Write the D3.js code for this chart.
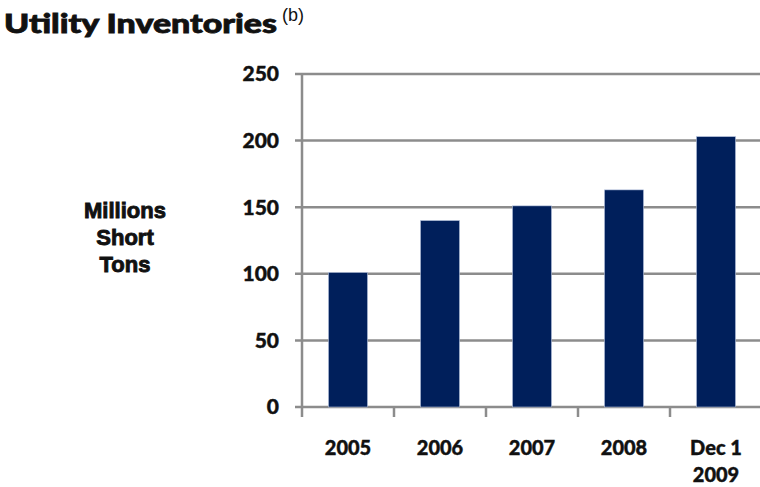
<!DOCTYPE html>
<html>
<head>
<meta charset="utf-8">
<script src="https://cdn.jsdelivr.net/npm/d3@7"></script>
<style>
  html, body { margin: 0; padding: 0; background: #fff; }
  svg { display: block; }
</style>
</head>
<body>
<svg id="chart" width="760" height="487"></svg>
<script>
// Utility coal inventories, millions of short tons
const categories = ["2005", "2006", "2007", "2008", "Dec 1\n2009"];
const inventories = [101, 140, 151, 163, 203];
const yTicks = [0, 50, 100, 150, 200, 250];

const svg = d3.select("#chart");
const W = 760, H = 487;
const plot = { left: 302, right: 762, top: 74, bottom: 407 };

const gridColor = "#8c8c8c";
const barColor = "#001f5b";
const tickFont = "Lato, 'Open Sans', sans-serif";

const x = d3.scaleBand()
  .domain(categories)
  .range([plot.left, plot.right])
  .paddingInner(0.575)
  .paddingOuter(0.2875);

const y = d3.scaleLinear()
  .domain([0, 250])
  .range([plot.bottom, plot.top]);

// Title with superscript note marker
svg.append("text")
  .attr("x", 4)
  .attr("y", 33)
  .attr("font-family", "Lato, 'Open Sans', sans-serif")
  .attr("font-weight", 900)
  .attr("font-size", 26)
  .attr("fill", "#111")
  .attr("stroke", "#111")
  .attr("stroke-width", 0.8)
  .attr("textLength", 273)
  .attr("lengthAdjust", "spacingAndGlyphs")
  .text("Utility Inventories");

svg.append("text")
  .attr("x", 282)
  .attr("y", 21)
  .attr("font-family", "'Liberation Sans', Arial, sans-serif")
  .attr("font-size", 18)
  .attr("fill", "#111")
  .text("(b)");

// Horizontal gridlines with short left stubs
svg.append("g")
  .selectAll("line")
  .data(yTicks)
  .join("line")
  .attr("x1", plot.left - 7)
  .attr("x2", W)
  .attr("y1", d => y(d))
  .attr("y2", d => y(d))
  .attr("stroke", gridColor)
  .attr("stroke-width", 2.5);

// Y tick labels
svg.append("g")
  .selectAll("text")
  .data(yTicks)
  .join("text")
  .attr("x", 279)
  .attr("y", d => y(d))
  .attr("dy", "0.35em")
  .attr("text-anchor", "end")
  .attr("font-family", tickFont)
  .attr("font-weight", 900)
  .attr("font-size", 21)
  .attr("fill", "#111")
  .attr("stroke", "#111")
  .attr("stroke-width", 0.4)
  .text(d => d);

// Bars
svg.append("g")
  .selectAll("rect")
  .data(categories.map((c, i) => ({ c, v: inventories[i] })))
  .join("rect")
  .attr("x", d => x(d.c))
  .attr("width", x.bandwidth())
  .attr("y", d => y(d.v))
  .attr("height", d => y(0) - y(d.v))
  .attr("fill", barColor)
  .attr("stroke", "#b9c6e0")
  .attr("stroke-width", 0.6);

// Vertical axis line
svg.append("line")
  .attr("x1", plot.left)
  .attr("x2", plot.left)
  .attr("y1", y(250) - 1)
  .attr("y2", plot.bottom + 10)
  .attr("stroke", gridColor)
  .attr("stroke-width", 2.5);

// Category boundary ticks below the baseline
const step = x.step();
const bounds = d3.range(categories.length + 1).map(i => plot.left + i * step);
svg.append("g")
  .selectAll("line")
  .data(bounds.slice(1))
  .join("line")
  .attr("x1", d => d)
  .attr("x2", d => d)
  .attr("y1", plot.bottom)
  .attr("y2", plot.bottom + 10)
  .attr("stroke", gridColor)
  .attr("stroke-width", 2.5);

// Category labels (multi-line where needed)
const xl = svg.append("g")
  .selectAll("text")
  .data(categories)
  .join("text")
  .attr("x", d => x(d) + x.bandwidth() / 2)
  .attr("y", 455)
  .attr("text-anchor", "middle")
  .attr("font-family", tickFont)
  .attr("font-weight", 900)
  .attr("font-size", 20)
  .attr("fill", "#111")
  .attr("stroke", "#111")
  .attr("stroke-width", 0.4);
xl.each(function(d) {
  const lines = d.split("\n");
  d3.select(this).selectAll("tspan")
    .data(lines)
    .join("tspan")
    .attr("x", x(d) + x.bandwidth() / 2)
    .attr("dy", (l, i) => i === 0 ? 0 : 27)
    .text(l => l);
});

// Y axis title
svg.append("text")
  .attr("x", 125)
  .attr("y", 218)
  .attr("text-anchor", "middle")
  .attr("font-family", "'Liberation Sans', Arial, sans-serif")
  .attr("font-weight", 700)
  .attr("font-size", 22)
  .attr("fill", "#111")
  .attr("stroke", "#111")
  .attr("stroke-width", 0.9)
  .selectAll("tspan")
  .data(["Millions", "Short", "Tons"])
  .join("tspan")
  .attr("x", 125)
  .attr("dy", (d, i) => i === 0 ? 0 : 27)
  .text(d => d);
</script>
</body>
</html>
